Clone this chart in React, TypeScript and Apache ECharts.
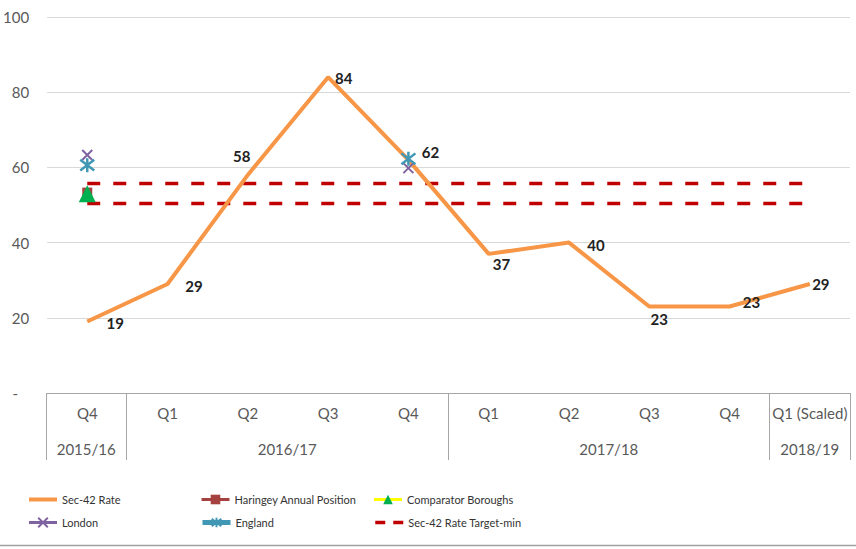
import React, { useEffect, useRef } from 'react';
import * as echarts from 'echarts';

// ---- data ----
const quarters = ['Q4', 'Q1', 'Q2', 'Q3', 'Q4', 'Q1', 'Q2', 'Q3', 'Q4', 'Q1 (Scaled)'];
const years = ['2015/16', '2016/17', '2017/18', '2018/19'];
const yearStarts = [0, 1, 5, 9]; // category index at which each financial year begins
const yearEnd = 10;

const sec42Rate = [19, 29, 58, 84, 62, 37, 40, 23, 23, 29];
const haringey = [53.3, null, null, null, null, null, null, null, null, null];
const comparator = [53, null, null, null, null, null, null, null, null, null];
const london = [63.3, null, null, null, 59.8, null, null, null, null, null];
const england = [60.6, null, null, null, 62.3, null, null, null, null, null];
const targetMin = [50.4, 50.4, 50.4, 50.4, 50.4, 50.4, 50.4, 50.4, 50.4, 50.4];
const targetUpper = [55.7, 55.7, 55.7, 55.7, 55.7, 55.7, 55.7, 55.7, 55.7, 55.7];

const yTicks = [0, 20, 40, 60, 80, 100];

// label placement (offsets from the point, px)
const labelOffsets: [number, number][] = [
  [28, 1.5], [26.5, 2], [-6, -19], [15.6, 1], [22, -8],
  [12.8, 10], [27, 2.5], [10, 12.5], [22, -4.5], [11, 0],
];

const FONT = 'Lato, "Open Sans", sans-serif';

export default function App() {
  const ref = useRef<HTMLDivElement>(null);

  useEffect(() => {
    if (!ref.current) return;
    const chart = echarts.init(ref.current, null, { renderer: 'svg' });

    const yearCenters = yearStarts.map((s, i) => (s + (i + 1 < yearStarts.length ? yearStarts[i + 1] : yearEnd)) / 2);

    const markerSeries = (name: string, data: (number | null)[], symbol: string, size: number, fill: string, lineColor: string, lineWidth: number, border?: { color: string; width: number }) => ({
      name,
      type: 'line',
      data,
      connectNulls: false,
      symbol,
      symbolSize: size,
      showSymbol: true,
      z: 5,
      lineStyle: { color: lineColor, width: lineWidth },
      itemStyle: border
        ? { color: fill, borderColor: border.color, borderWidth: border.width }
        : { color: fill },
      label: { show: false },
    });

    const option: any = {
      animation: false,
      backgroundColor: '#ffffff',
      textStyle: { fontFamily: FONT },
      grid: [
        { left: 46, right: 6, top: 17, bottom: 156 },
        { left: 46, right: 6, top: 17, bottom: 156 },
      ],
      xAxis: [
        {
          type: 'category',
          gridIndex: 0,
          data: quarters,
          boundaryGap: true,
          axisLine: { show: true, lineStyle: { color: '#A6A6A6', width: 1 } },
          axisTick: { show: false },
          axisLabel: { interval: 0, margin: 12, fontSize: 15, color: '#595959', fontFamily: FONT },
          splitLine: { show: false },
        },
        {
          type: 'value',
          gridIndex: 1,
          min: 0,
          max: yearEnd,
          axisLine: { show: false },
          splitLine: { show: false },
          axisTick: {
            show: true,
            customValues: [...yearStarts, yearEnd],
            length: 67,
            lineStyle: { color: '#A6A6A6', width: 1 },
          },
          axisLabel: {
            show: true,
            customValues: yearCenters,
            margin: 48,
            fontSize: 15,
            color: '#595959',
            fontFamily: FONT,
            formatter: (v: number) => {
              const i = yearCenters.findIndex((c) => Math.abs(c - v) < 1e-6);
              return i >= 0 ? years[i] : '';
            },
          },
        },
      ],
      yAxis: [
        {
          type: 'value',
          gridIndex: 0,
          min: 0,
          max: 100,
          interval: 20,
          axisLine: { show: false },
          axisTick: { show: false },
          splitLine: { show: true, lineStyle: { color: '#D9D9D9', width: 1 } },
          axisLabel: {
            margin: 18,
            fontSize: 15,
            color: '#595959',
            fontFamily: FONT,
            formatter: (v: number) => (v === yTicks[0] ? '{d|-}' : String(v)),
            rich: { d: { padding: [0, 11, 0, 0], fontSize: 15, color: '#595959', fontFamily: FONT } },
          },
        },
        { type: 'value', gridIndex: 1, min: 0, max: 1, show: false },
      ],
      legend: {
        left: 22,
        top: 483,
        width: 520,
        itemGap: 0,
        itemWidth: 28,
        itemHeight: 12,
        selectedMode: false,
        data: [
          { name: 'Sec-42 Rate' },
          { name: 'Haringey Annual Position' },
          { name: 'Comparator Boroughs' },
          { name: 'London' },
          { name: 'England' },
          { name: 'Sec-42 Rate Target-min', lineStyle: { type: [10, 8] } },
        ],
        textStyle: { fontFamily: FONT, fontSize: 11, color: '#333333', width: 138, lineHeight: 23 },
        lineStyle: { width: 'inherit' },
      },
      graphic: [
        {
          type: 'line',
          shape: { x1: 0, y1: 545.5, x2: 856, y2: 545.5 },
          style: { stroke: '#A0A0A0', lineWidth: 1.5 },
          silent: true,
        },
      ],
      series: [
        {
          name: 'Sec-42 Rate Target-max',
          type: 'line',
          data: targetUpper,
          showSymbol: false,
          symbol: 'circle',
          symbolSize: 0,
          z: 2,
          itemStyle: { color: 'rgba(0,0,0,0)' },
          lineStyle: { color: '#C00000', width: 3.5, type: [13, 13] },
        },
        {
          name: 'Sec-42 Rate Target-min',
          type: 'line',
          data: targetMin,
          showSymbol: false,
          symbol: 'circle',
          symbolSize: 0,
          z: 2,
          itemStyle: { color: 'rgba(0,0,0,0)' },
          lineStyle: { color: '#C00000', width: 3.5, type: [13, 13] },
        },
        {
          name: 'Sec-42 Rate',
          type: 'line',
          data: sec42Rate.map((v, i) => ({ value: v, label: { offset: labelOffsets[i] } })),
          symbol: 'circle',
          symbolSize: 1,
          showSymbol: true,
          z: 3,
          itemStyle: { color: 'rgba(0,0,0,0)' },
          lineStyle: { color: '#F79646', width: 4 },
          label: {
            show: true,
            position: 'inside',
            fontFamily: FONT,
            fontSize: 15,
            fontWeight: 'bold',
            color: '#222222',
          },
        },
        markerSeries('Haringey Annual Position', haringey, 'rect', 10, '#A5413E', '#A5413E', 3),
        markerSeries('Comparator Boroughs', comparator, 'triangle', 17, '#00B050', '#FFFF00', 3),
        markerSeries('London', london, 'path://M0,0L10,10M10,0L0,10', 10, '#7F63A1', '#7F63A1', 3, { color: '#7F63A1', width: 2 }),
        markerSeries('England', england, 'path://M0,0L10,10M10,0L0,10M5,-1.5L5,11.5', 14, '#4198B5', '#4198B5', 5, { color: '#4198B5', width: 2.5 }),
      ],
    };

    chart.setOption(option);
    return () => chart.dispose();
  }, []);

  return (
    <div
      ref={ref}
      style={{ position: 'fixed', left: 0, top: 0, width: 856, height: 549, background: '#fff' }}
    />
  );
}
